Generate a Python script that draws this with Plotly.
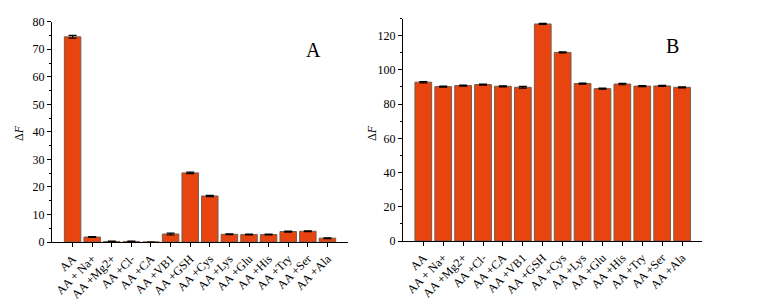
import plotly.graph_objects as go

categories = ["AA", "AA + Na+", "AA +Mg2+", "AA +Cl-", "AA +CA", "AA +VB1", "AA +GSH",
              "AA +Cys", "AA +Lys", "AA +Glu", "AA +His", "AA +Try", "AA +Ser", "AA +Ala"]
values_a = [74.5, 1.8, 0.2, 0.2, 0.0, 2.9, 25.1, 16.7, 2.8, 2.7, 2.7, 3.8, 3.9, 1.4]
errors_a = [0.5, 0.15, 0.1, 0.1, 0.0, 0.35, 0.25, 0.2, 0.15, 0.15, 0.15, 0.2, 0.15, 0.15]
values_b = [92.8, 90.2, 90.8, 91.4, 90.4, 89.8, 126.8, 110.2, 92.0, 89.0, 91.7, 90.5, 90.6, 89.8]
errors_b = [0.4, 0.3, 0.3, 0.3, 0.3, 0.5, 0.3, 0.3, 0.3, 0.3, 0.4, 0.3, 0.3, 0.3]

BAR = "#E8440F"
EDGE = "#7a5a4a"
FONT = "Liberation Serif"

W, H = 772, 302
OFF = 8  # page body margin


def px(x):
    return (x - OFF) / W


def py(y):
    return 1 - (y - OFF) / H


fig = go.Figure()
fig.add_trace(go.Bar(
    x=list(range(len(categories))), y=values_a, xaxis="x", yaxis="y",
    marker=dict(color=BAR, line=dict(color=EDGE, width=1)),
    error_y=dict(type="data", array=errors_a, color="black", thickness=1.2, width=4),
    width=0.84, showlegend=False))
fig.add_trace(go.Bar(
    x=list(range(len(categories))), y=values_b, xaxis="x2", yaxis="y2",
    marker=dict(color=BAR, line=dict(color=EDGE, width=1)),
    error_y=dict(type="data", array=errors_b, color="black", thickness=1.2, width=4),
    width=0.84, showlegend=False))

axis_common = dict(showline=True, linecolor="black", linewidth=1.2, ticks="outside",
                   ticklen=4, tickcolor="black", showgrid=False, zeroline=False,
                   automargin=False,
                   tickfont=dict(family=FONT, size=12, color="black"))


def label(text, x, y, size, angle=0):
    return dict(text=text, x=px(x), y=py(y), xref="paper", yref="paper", showarrow=False,
                xanchor="center", yanchor="middle", textangle=angle,
                font=dict(family=FONT, size=size, color="black"))


fig.update_layout(
    width=W, height=H,
    margin=dict(l=0, r=0, t=0, b=0),
    paper_bgcolor="white", plot_bgcolor="white",
    font=dict(family=FONT, color="black"),
    xaxis=dict(domain=[px(52), px(348)], anchor="y", range=[-1.05, 14.05],
               tickmode="array", tickvals=list(range(len(categories))), ticktext=categories,
               tickangle=-45, **axis_common),
    yaxis=dict(domain=[py(242), py(21.7)], anchor="x", range=[0, 80], dtick=10,
               minor=dict(ticks="outside", ticklen=2, dtick=5, tickcolor="black"),
               **axis_common),
    xaxis2=dict(domain=[px(403), px(702)], anchor="y2", range=[-1.02, 14.0],
                tickmode="array", tickvals=list(range(len(categories))), ticktext=categories,
                tickangle=-45, **axis_common),
    yaxis2=dict(domain=[py(241), py(18.5)], anchor="x2", range=[0, 130], dtick=20,
                minor=dict(ticks="outside", ticklen=2, dtick=10, tickcolor="black"),
                **axis_common),
    annotations=[
        label("A", 313, 50, 20),
        label("B", 672, 46, 20),
        label("Δ<i>F</i>", 19, 133, 12, -90),
        label("Δ<i>F</i>", 372, 133, 12, -90),
    ],
)

fig.write_html("out.html")
